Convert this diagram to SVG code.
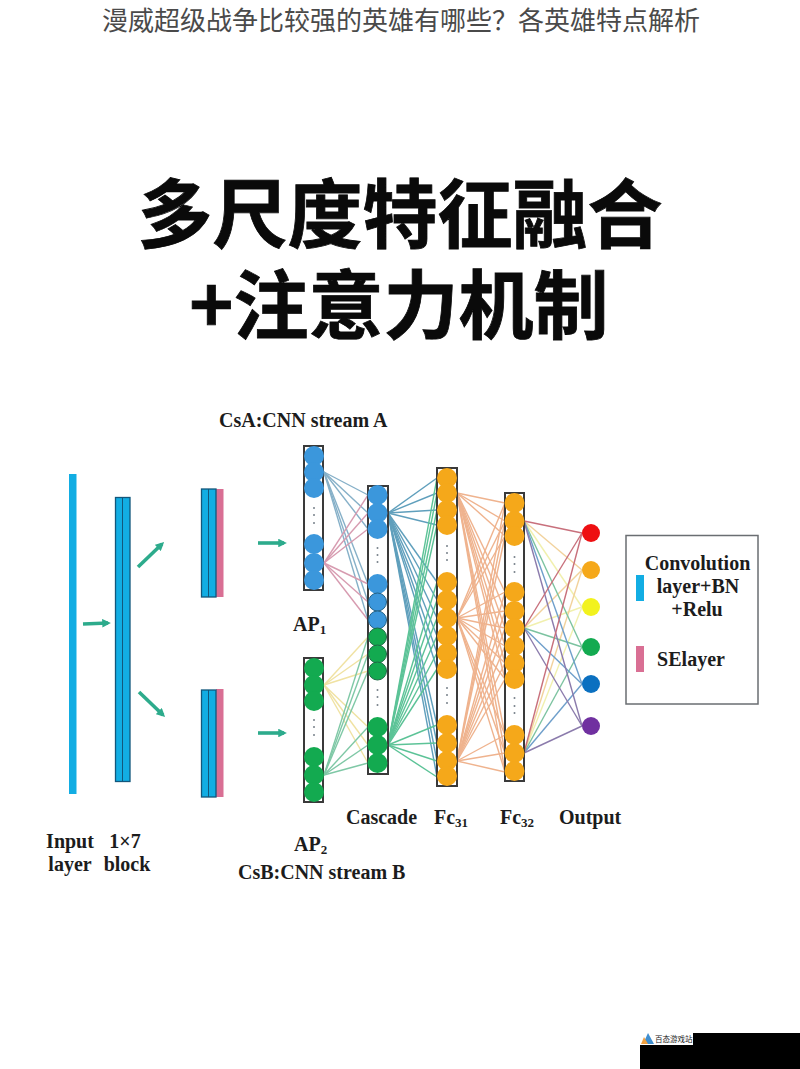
<svg xmlns="http://www.w3.org/2000/svg" width="800" height="1069" viewBox="0 0 800 1069">
<style>
.title{font-family:"Noto Sans CJK SC","Noto Sans",sans-serif;font-size:26px;fill:#4a4a4a;text-anchor:middle}
.big{font-family:"Noto Sans CJK SC","Noto Sans",sans-serif;font-weight:700;font-size:75px;fill:#0a0a0a;stroke:#0a0a0a;stroke-width:.8;text-anchor:middle}
.lb{font-family:"Liberation Serif","Noto Serif",serif;font-weight:700;font-size:20px;fill:#1c1c1c}
.m{text-anchor:middle}
.box{fill:#fff;stroke:#3a3a3a;stroke-width:2}
.bl{fill:#3b97dc}.gr{fill:#13aa50}.or{fill:#f5a81a}
.dot{fill:#77808a}
.bar{fill:#12ade3}.barb{fill:#12ade3;stroke:#12577c;stroke-width:1.3}.pk{fill:#d96f94}
.arr{stroke:#2dab8c;stroke-width:3.6;fill:none;marker-end:url(#ah)}
line{stroke-width:1.4}
.a1{stroke:#86b0c8}.a2{stroke:#d79bb0}.b1{stroke:#f0e2a2}.b2{stroke:#7fc8a6}
.c1{stroke:#5f9fbc}.c2{stroke:#5cc397}.f{stroke:#efb38e}
.o1{stroke:#c8707c}.o2{stroke:#f2d29c}.o3{stroke:#f1f0ae}.o4{stroke:#7cc3a0}.o5{stroke:#6f9fcb}.o6{stroke:#8b7bac}
</style>
<defs><marker id="ah" viewBox="0 0 6 6" refX="4" refY="3" markerWidth="2.4" markerHeight="2.4" orient="auto"><path d="M0 0L6 3L0 6z" fill="#2dab8c"/></marker></defs>
<rect width="800" height="1069" fill="#fff"/>
<text class="title" x="401" y="30">漫威超级战争比较强的英雄有哪些？各英雄特点解析</text>
<text class="big" x="400" y="242">多尺度特征融合</text>
<text class="big" x="399" y="333">+注意力机制</text>

<g id="connectors">
<g id="ap1-cascade">
<line class="a1" x1="324" y1="472" x2="368" y2="495"/><line class="a1" x1="324" y1="472" x2="368" y2="513"/><line class="a1" x1="324" y1="472" x2="368" y2="529"/><line class="a1" x1="324" y1="472" x2="368" y2="584"/><line class="a1" x1="324" y1="472" x2="368" y2="602"/><line class="a1" x1="324" y1="472" x2="368" y2="620"/>
<line class="a2" x1="324" y1="563" x2="368" y2="495"/><line class="a2" x1="324" y1="563" x2="368" y2="513"/><line class="a2" x1="324" y1="563" x2="368" y2="529"/><line class="a2" x1="324" y1="563" x2="368" y2="584"/><line class="a2" x1="324" y1="563" x2="368" y2="602"/><line class="a2" x1="324" y1="563" x2="368" y2="620"/>
</g>
<g id="ap2-cascade">
<line class="b1" x1="324" y1="685" x2="368" y2="637"/><line class="b1" x1="324" y1="685" x2="368" y2="654"/><line class="b1" x1="324" y1="685" x2="368" y2="671"/><line class="b1" x1="324" y1="685" x2="368" y2="727"/><line class="b1" x1="324" y1="685" x2="368" y2="745"/><line class="b1" x1="324" y1="685" x2="368" y2="763"/>
<line class="b2" x1="324" y1="775" x2="368" y2="637"/><line class="b2" x1="324" y1="775" x2="368" y2="654"/><line class="b2" x1="324" y1="775" x2="368" y2="671"/><line class="b2" x1="324" y1="775" x2="368" y2="727"/><line class="b2" x1="324" y1="775" x2="368" y2="745"/><line class="b2" x1="324" y1="775" x2="368" y2="763"/>
</g>
<g id="cascade-fc31">
<line class="c1" x1="388" y1="513" x2="437" y2="478"/><line class="c1" x1="388" y1="513" x2="437" y2="493"/><line class="c1" x1="388" y1="513" x2="437" y2="510"/><line class="c1" x1="388" y1="513" x2="437" y2="525"/><line class="c1" x1="388" y1="513" x2="437" y2="582"/><line class="c1" x1="388" y1="513" x2="437" y2="600"/><line class="c1" x1="388" y1="513" x2="437" y2="618"/><line class="c1" x1="388" y1="513" x2="437" y2="636"/><line class="c1" x1="388" y1="513" x2="437" y2="653"/><line class="c1" x1="388" y1="513" x2="437" y2="669"/><line class="c1" x1="388" y1="513" x2="437" y2="725"/><line class="c1" x1="388" y1="513" x2="437" y2="743"/><line class="c1" x1="388" y1="513" x2="437" y2="761"/><line class="c1" x1="388" y1="513" x2="437" y2="777"/>
<line class="c2" x1="388" y1="745" x2="437" y2="478"/><line class="c2" x1="388" y1="745" x2="437" y2="493"/><line class="c2" x1="388" y1="745" x2="437" y2="510"/><line class="c2" x1="388" y1="745" x2="437" y2="525"/><line class="c2" x1="388" y1="745" x2="437" y2="582"/><line class="c2" x1="388" y1="745" x2="437" y2="600"/><line class="c2" x1="388" y1="745" x2="437" y2="618"/><line class="c2" x1="388" y1="745" x2="437" y2="636"/><line class="c2" x1="388" y1="745" x2="437" y2="653"/><line class="c2" x1="388" y1="745" x2="437" y2="669"/><line class="c2" x1="388" y1="745" x2="437" y2="725"/><line class="c2" x1="388" y1="745" x2="437" y2="743"/><line class="c2" x1="388" y1="745" x2="437" y2="761"/><line class="c2" x1="388" y1="745" x2="437" y2="777"/>
</g>
<g id="fc31-fc32">
<line class="f" x1="457" y1="493" x2="505" y2="503"/><line class="f" x1="457" y1="493" x2="505" y2="521"/><line class="f" x1="457" y1="493" x2="505" y2="536"/><line class="f" x1="457" y1="493" x2="505" y2="592"/><line class="f" x1="457" y1="493" x2="505" y2="611"/><line class="f" x1="457" y1="493" x2="505" y2="628"/><line class="f" x1="457" y1="493" x2="505" y2="646"/><line class="f" x1="457" y1="493" x2="505" y2="663"/><line class="f" x1="457" y1="493" x2="505" y2="679"/><line class="f" x1="457" y1="493" x2="505" y2="735"/><line class="f" x1="457" y1="493" x2="505" y2="753"/><line class="f" x1="457" y1="493" x2="505" y2="772"/>
<line class="f" x1="457" y1="618" x2="505" y2="503"/><line class="f" x1="457" y1="618" x2="505" y2="521"/><line class="f" x1="457" y1="618" x2="505" y2="536"/><line class="f" x1="457" y1="618" x2="505" y2="592"/><line class="f" x1="457" y1="618" x2="505" y2="611"/><line class="f" x1="457" y1="618" x2="505" y2="628"/><line class="f" x1="457" y1="618" x2="505" y2="646"/><line class="f" x1="457" y1="618" x2="505" y2="663"/><line class="f" x1="457" y1="618" x2="505" y2="679"/><line class="f" x1="457" y1="618" x2="505" y2="735"/><line class="f" x1="457" y1="618" x2="505" y2="753"/><line class="f" x1="457" y1="618" x2="505" y2="772"/>
<line class="f" x1="457" y1="761" x2="505" y2="503"/><line class="f" x1="457" y1="761" x2="505" y2="521"/><line class="f" x1="457" y1="761" x2="505" y2="536"/><line class="f" x1="457" y1="761" x2="505" y2="592"/><line class="f" x1="457" y1="761" x2="505" y2="611"/><line class="f" x1="457" y1="761" x2="505" y2="628"/><line class="f" x1="457" y1="761" x2="505" y2="646"/><line class="f" x1="457" y1="761" x2="505" y2="663"/><line class="f" x1="457" y1="761" x2="505" y2="679"/><line class="f" x1="457" y1="761" x2="505" y2="735"/><line class="f" x1="457" y1="761" x2="505" y2="753"/><line class="f" x1="457" y1="761" x2="505" y2="772"/>
</g>
<g id="fc32-output">
<line class="o3" x1="524" y1="521" x2="582" y2="607"/><line class="o3" x1="524" y1="628" x2="582" y2="607"/><line class="o3" x1="524" y1="753" x2="582" y2="607"/>
<line class="o2" x1="524" y1="521" x2="582" y2="570"/><line class="o2" x1="524" y1="628" x2="582" y2="570"/><line class="o2" x1="524" y1="753" x2="582" y2="570"/>
<line class="o4" x1="524" y1="521" x2="582" y2="647"/><line class="o4" x1="524" y1="628" x2="582" y2="647"/><line class="o4" x1="524" y1="753" x2="582" y2="647"/>
<line class="o5" x1="524" y1="521" x2="582" y2="684"/><line class="o5" x1="524" y1="628" x2="582" y2="684"/><line class="o5" x1="524" y1="753" x2="582" y2="684"/>
<line class="o6" x1="524" y1="521" x2="582" y2="726"/><line class="o6" x1="524" y1="628" x2="582" y2="726"/><line class="o6" x1="524" y1="753" x2="582" y2="726"/>
<line class="o1" x1="524" y1="521" x2="582" y2="533"/><line class="o1" x1="524" y1="628" x2="582" y2="533"/><line class="o1" x1="524" y1="753" x2="582" y2="533"/>
</g>
<g id="arrows">
<line class="arr" x1="83" y1="624" x2="108" y2="623"/>
<line class="arr" x1="138" y1="567" x2="162" y2="544"/>
<line class="arr" x1="139" y1="692" x2="163" y2="715"/>
<line class="arr" x1="258" y1="543" x2="284" y2="543"/>
<line class="arr" x1="258" y1="733" x2="284" y2="733"/>
</g>
</g>

<g id="input-layer"><rect class="bar" x="69" y="474" width="7.500" height="320"/>
<text class="lb m" x="70" y="848">Input</text><text class="lb m" x="70" y="871">layer</text></g>
<g id="block-1x7"><rect class="barb" x="115.500" y="497.500" width="14.500" height="284"/><path d="M122.500 497.500V781.500" stroke="#12577c" fill="none"/>
<text class="lb m" x="125" y="848">1×7</text><text class="lb m" x="127" y="871">block</text></g>
<g id="block-a"><rect class="pk" x="216" y="489" width="7.500" height="108"/><rect class="barb" x="201.500" y="489" width="14.500" height="108"/><path d="M208.500 489V597" stroke="#12577c" fill="none"/></g>
<g id="block-b"><rect class="pk" x="216" y="689" width="7.500" height="108"/><rect class="barb" x="201.500" y="690" width="14.500" height="107"/><path d="M208.500 690V797" stroke="#12577c" fill="none"/></g>

<g id="ap1"><rect class="box" x="304" y="446" width="19" height="144"/>
<g class="bl"><circle cx="314" cy="456" r="10"/><circle cx="314" cy="472" r="10"/><circle cx="314" cy="488" r="10"/><circle cx="314" cy="544" r="10"/><circle cx="314" cy="563" r="10"/><circle cx="314" cy="580" r="10"/></g>
<g class="dot"><circle cx="314" cy="508" r="1"/><circle cx="314" cy="515" r="1"/><circle cx="314" cy="523" r="1"/></g>
<text class="lb" x="293" y="631">AP<tspan font-size="13" dy="3">1</tspan></text></g>
<g id="ap2"><rect class="box" x="304" y="658" width="19" height="144"/>
<g class="gr"><circle cx="314" cy="668" r="10"/><circle cx="314" cy="685" r="10"/><circle cx="314" cy="701" r="10"/><circle cx="314" cy="757" r="10"/><circle cx="314" cy="775" r="10"/><circle cx="314" cy="792" r="10"/></g>
<g class="dot"><circle cx="314" cy="720" r="1"/><circle cx="314" cy="727" r="1"/><circle cx="314" cy="735" r="1"/></g>
<text class="lb" x="294" y="851">AP<tspan font-size="13" dy="3">2</tspan></text></g>
<g id="cascade"><rect class="box" x="368" y="486" width="20" height="288"/>
<g class="bl"><circle cx="377.500" cy="495" r="10"/><circle cx="377.500" cy="513" r="10"/><circle cx="377.500" cy="529" r="10"/><circle cx="377.500" cy="584" r="10"/></g>
<g class="bl" stroke="#1d5f86"><circle cx="377.500" cy="602" r="9"/><circle cx="377.500" cy="620" r="9"/></g>
<g class="gr" stroke="#1c6a45"><circle cx="377.500" cy="637" r="9"/><circle cx="377.500" cy="654" r="9"/><circle cx="377.500" cy="671" r="9"/></g>
<g class="gr"><circle cx="377.500" cy="727" r="10"/><circle cx="377.500" cy="745" r="10"/><circle cx="377.500" cy="763" r="10"/></g>
<g class="dot"><circle cx="377.500" cy="548" r="1"/><circle cx="377.500" cy="555" r="1"/><circle cx="377.500" cy="562" r="1"/><circle cx="377.500" cy="690" r="1"/><circle cx="377.500" cy="697" r="1"/><circle cx="377.500" cy="705" r="1"/></g>
<text class="lb" x="346" y="824">Cascade</text></g>
<g id="fc31"><rect class="box" x="437" y="468" width="20" height="318"/>
<g class="or"><circle cx="447" cy="478" r="10"/><circle cx="447" cy="493" r="10"/><circle cx="447" cy="510" r="10"/><circle cx="447" cy="525" r="10"/><circle cx="447" cy="582" r="10"/><circle cx="447" cy="600" r="10"/><circle cx="447" cy="618" r="10"/><circle cx="447" cy="636" r="10"/><circle cx="447" cy="653" r="10"/><circle cx="447" cy="669" r="10"/><circle cx="447" cy="725" r="10"/><circle cx="447" cy="743" r="10"/><circle cx="447" cy="761" r="10"/><circle cx="447" cy="776" r="10"/></g>
<g class="dot"><circle cx="447" cy="546" r="1"/><circle cx="447" cy="553" r="1"/><circle cx="447" cy="560" r="1"/><circle cx="447" cy="688" r="1"/><circle cx="447" cy="695" r="1"/><circle cx="447" cy="703" r="1"/></g>
<text class="lb" x="434" y="824">Fc<tspan font-size="13" dy="3">31</tspan></text></g>
<g id="fc32"><rect class="box" x="505" y="493" width="19" height="288"/>
<g class="or"><circle cx="514.500" cy="503" r="10"/><circle cx="514.500" cy="521" r="10"/><circle cx="514.500" cy="536" r="10"/><circle cx="514.500" cy="592" r="10"/><circle cx="514.500" cy="611" r="10"/><circle cx="514.500" cy="628" r="10"/><circle cx="514.500" cy="646" r="10"/><circle cx="514.500" cy="663" r="10"/><circle cx="514.500" cy="679" r="10"/><circle cx="514.500" cy="735" r="10"/><circle cx="514.500" cy="753" r="10"/><circle cx="514.500" cy="771" r="10"/></g>
<g class="dot"><circle cx="514.500" cy="557" r="1"/><circle cx="514.500" cy="564" r="1"/><circle cx="514.500" cy="572" r="1"/><circle cx="514.500" cy="698" r="1"/><circle cx="514.500" cy="706" r="1"/><circle cx="514.500" cy="713" r="1"/></g>
<text class="lb" x="500" y="824">Fc<tspan font-size="13" dy="3">32</tspan></text></g>
<g id="output"><circle cx="591" cy="533" r="9" fill="#ee0f12"/><circle cx="591" cy="570" r="9" fill="#f5a81a"/><circle cx="591" cy="607" r="9" fill="#f2f21e"/><circle cx="591" cy="647" r="9" fill="#13aa50"/><circle cx="591" cy="684" r="9" fill="#0b70c0"/><circle cx="591" cy="726" r="9" fill="#7030a0"/>
<text class="lb" x="559" y="824">Output</text></g>

<g id="stream-labels"><text class="lb" x="219" y="427">CsA:CNN stream A</text><text class="lb" x="238" y="879">CsB:CNN stream B</text></g>
<g id="legend"><rect x="626" y="535.500" width="132" height="168.500" fill="#fff" stroke="#6a6e72" stroke-width="1.500"/>
<rect class="bar" x="636" y="575" width="8" height="26"/><rect class="pk" x="636" y="646" width="8" height="26"/>
<text class="lb m" x="697.500" y="570">Convolution</text><text class="lb m" x="698" y="593">layer+BN</text><text class="lb m" x="697" y="616">+Relu</text><text class="lb m" x="691" y="666">SElayer</text></g>

<g id="watermark"><rect x="693" y="1033" width="107" height="36" fill="#000"/><rect x="640" y="1045" width="53" height="24" fill="#000"/>
<path d="M648 1033L654 1044H643z" fill="#3f8fd0"/><path d="M644 1037L648 1044H641z" fill="#f0a040"/>
<text x="655" y="1041.500" font-family="'Noto Sans CJK SC',sans-serif" font-size="7.500" fill="#222">百态游戏站</text></g>
</svg>
